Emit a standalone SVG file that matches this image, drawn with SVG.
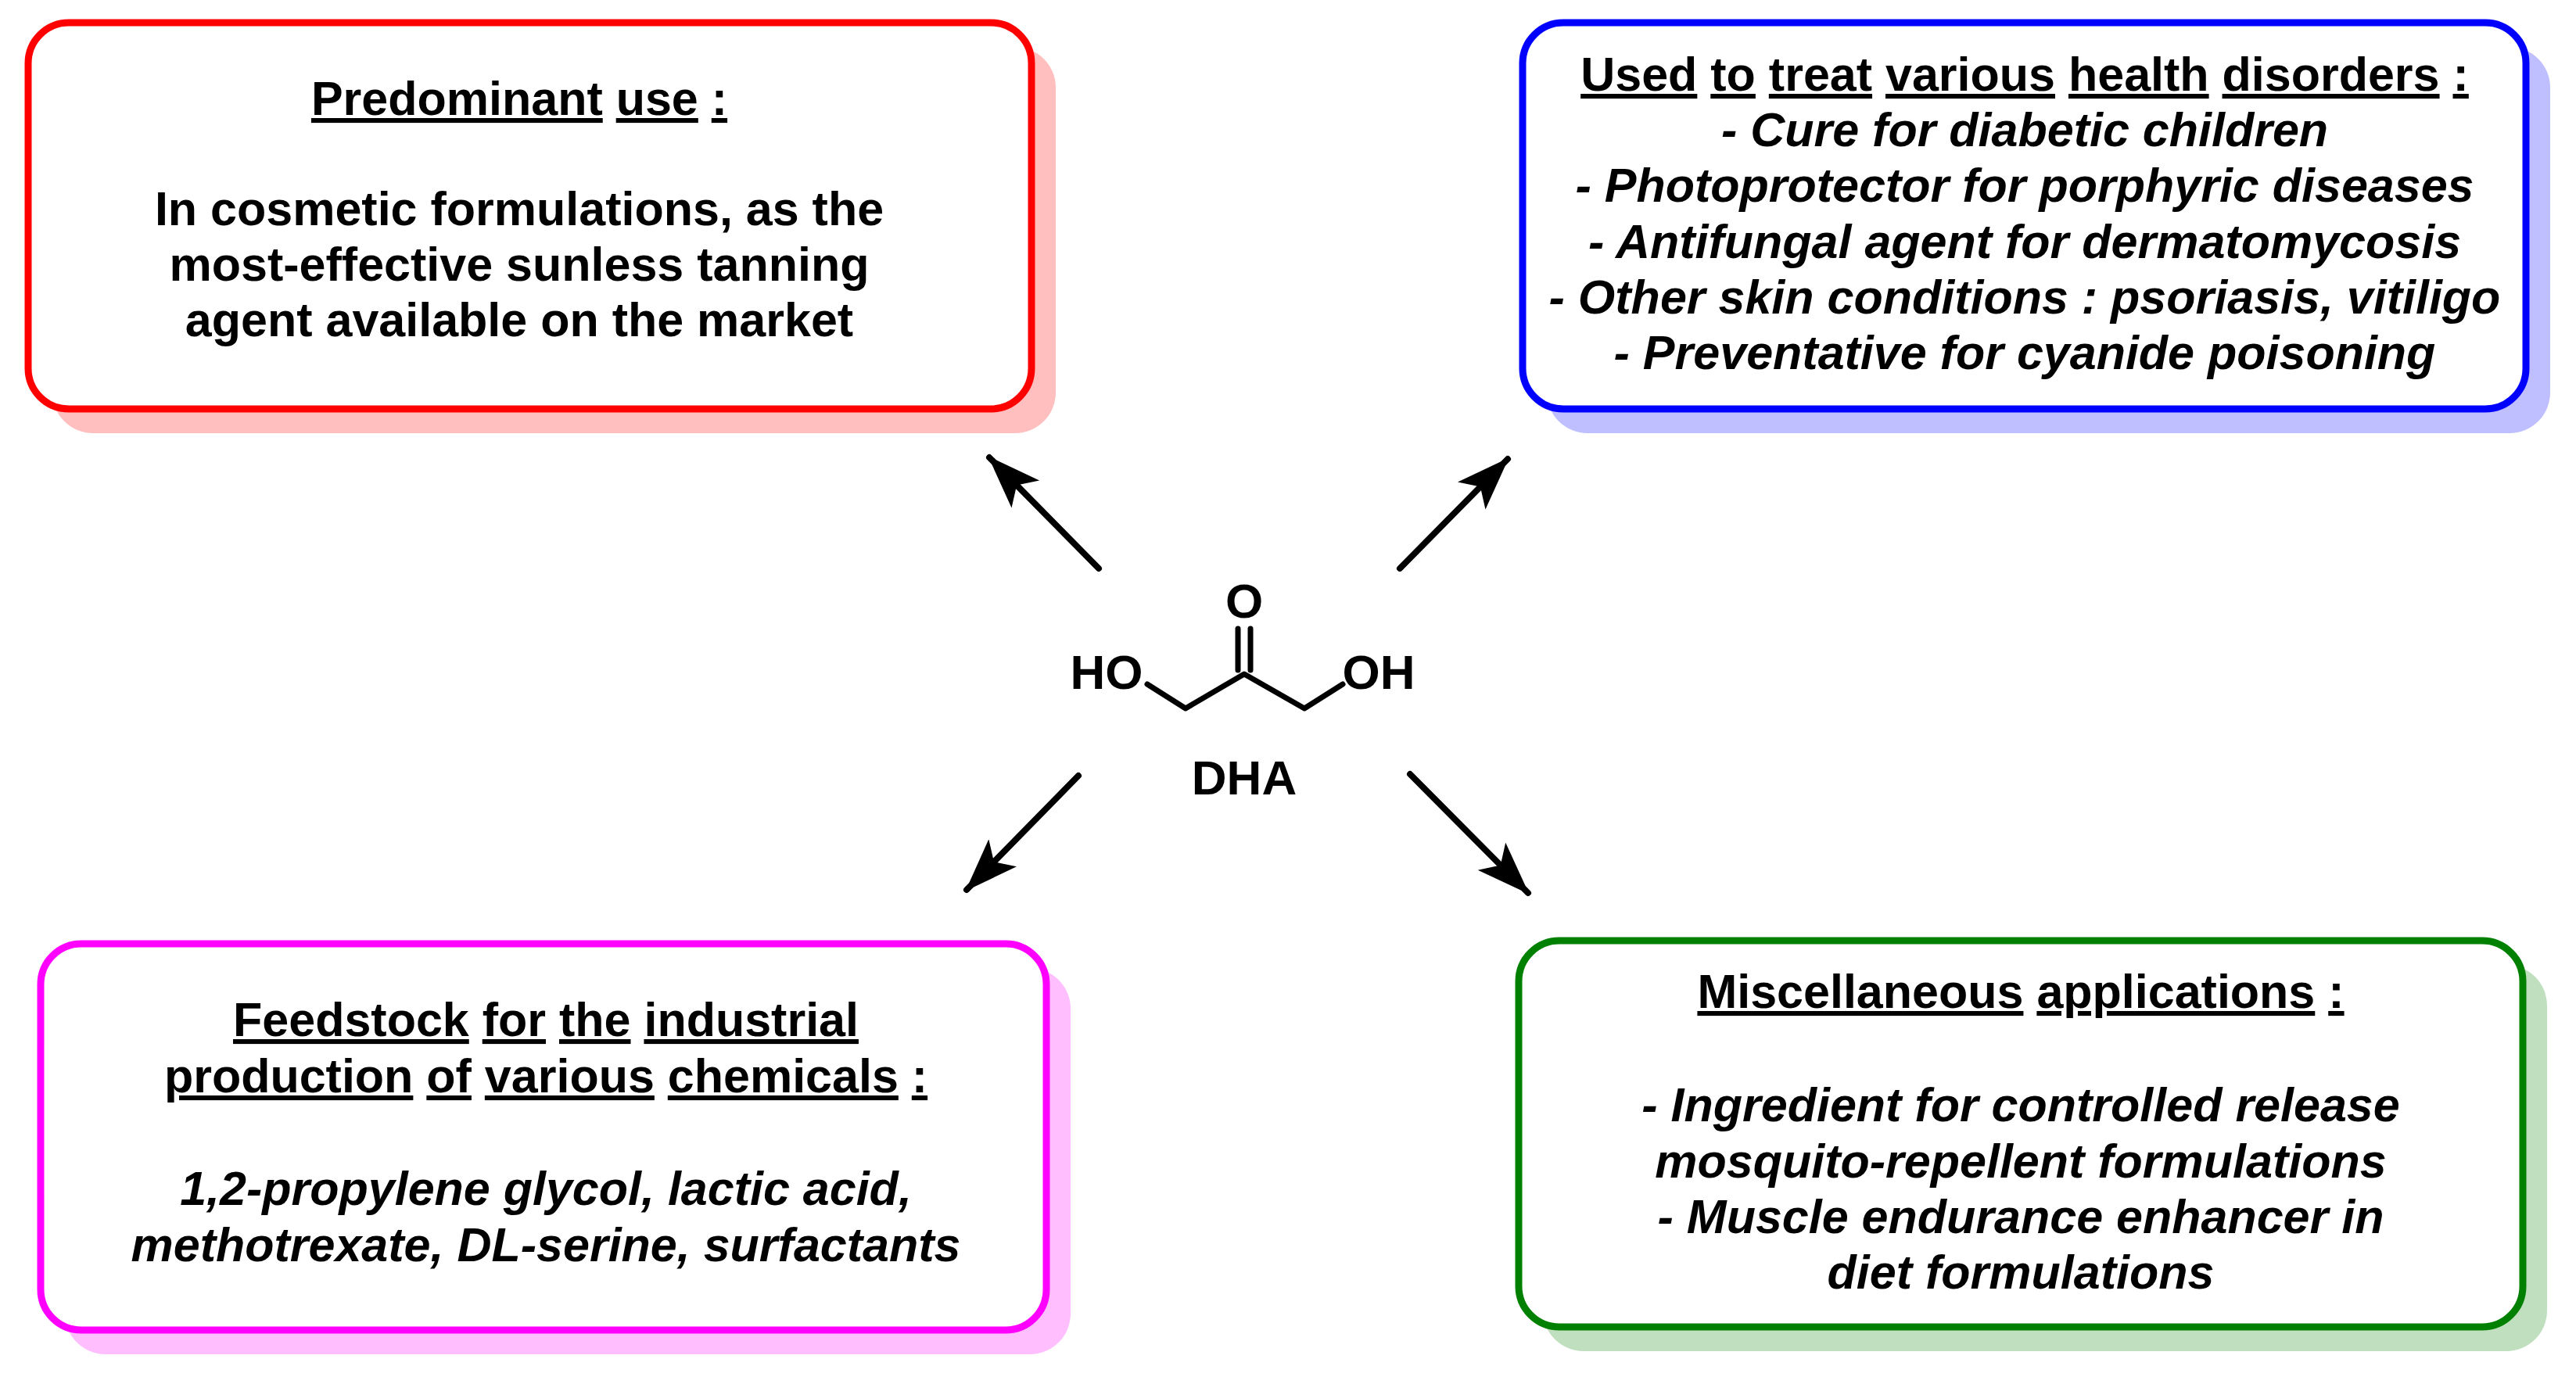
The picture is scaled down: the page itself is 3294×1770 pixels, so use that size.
<svg xmlns="http://www.w3.org/2000/svg" width="3294" height="1770" viewBox="0 0 3294 1770">
<style>
text{font-family:"Liberation Sans",Arial,sans-serif;font-weight:bold;font-size:61px;fill:#000;text-anchor:middle}
.i{font-style:italic}
.u{text-decoration:underline}
.box{fill:#fff;stroke-width:9}
.bond{stroke:#000;stroke-width:7;fill:none;stroke-linecap:round;stroke-linejoin:round}
.arr{stroke:#000;stroke-width:8;fill:none;stroke-linecap:round}
</style>
<defs>
<marker id="ah" markerUnits="userSpaceOnUse" markerWidth="80" markerHeight="60" refX="66" refY="25" orient="auto">
<path d="M0,0 L68,25 L0,50 L16,25 Z" fill="#000"/>
</marker>
</defs>
<rect width="3294" height="1770" fill="#fff"/>
<g id="use">
<rect x="67" y="60" width="1283" height="494" rx="52" fill="#ffbfbf"/>
<rect class="box" x="36" y="29" width="1283" height="494" rx="52" stroke="#ff0000"/>
<text x="664" y="147"><tspan class="u">Predominant</tspan> <tspan class="u">use</tspan> <tspan class="u">:</tspan></text>
<text x="664" y="288">In cosmetic formulations, as the</text>
<text x="664" y="359">most-effective sunless tanning</text>
<text x="664" y="430">agent available on the market</text>
</g>
<g id="health">
<rect x="1978" y="60" width="1283" height="494" rx="52" fill="#bfbfff"/>
<rect class="box" x="1947" y="29" width="1283" height="494" rx="52" stroke="#0000ff"/>
<text x="2589" y="116"><tspan class="u">Used</tspan> <tspan class="u">to</tspan> <tspan class="u">treat</tspan> <tspan class="u">various</tspan> <tspan class="u">health</tspan> <tspan class="u">disorders</tspan> <tspan class="u">:</tspan></text>
<text class="i" x="2589" y="187">- Cure for diabetic children</text>
<text class="i" x="2589" y="258">- Photoprotector for porphyric diseases</text>
<text class="i" x="2589" y="330">- Antifungal agent for dermatomycosis</text>
<text class="i" x="2589" y="401">- Other skin conditions : psoriasis, vitiligo</text>
<text class="i" x="2589" y="472">- Preventative for cyanide poisoning</text>
</g>
<g id="feedstock">
<rect x="83" y="1238" width="1286" height="494" rx="52" fill="#ffbfff"/>
<rect class="box" x="52" y="1207" width="1286" height="494" rx="52" stroke="#ff00ff"/>
<text x="698" y="1325"><tspan class="u">Feedstock</tspan> <tspan class="u">for</tspan> <tspan class="u">the</tspan> <tspan class="u">industrial</tspan></text>
<text x="698" y="1397"><tspan class="u">production</tspan> <tspan class="u">of</tspan> <tspan class="u">various</tspan> <tspan class="u">chemicals</tspan> <tspan class="u">:</tspan></text>
<text class="i" x="698" y="1541">1,2-propylene glycol, lactic acid,</text>
<text class="i" x="698" y="1613">methotrexate, DL-serine, surfactants</text>
</g>
<g id="misc">
<rect x="1973" y="1234" width="1284" height="494" rx="52" fill="#bfdfbf"/>
<rect class="box" x="1942" y="1203" width="1284" height="494" rx="52" stroke="#008000"/>
<text x="2584" y="1289"><tspan class="u">Miscellaneous</tspan> <tspan class="u">applications</tspan> <tspan class="u">:</tspan></text>
<text class="i" x="2584" y="1434">- Ingredient for controlled release</text>
<text class="i" x="2584" y="1506">mosquito-repellent formulations</text>
<text class="i" x="2584" y="1577">- Muscle endurance enhancer in</text>
<text class="i" x="2584" y="1648">diet formulations</text>
</g>
<g id="dha">
<text x="1415" y="881" style="font-size:62px">HO</text>
<text x="1763" y="881" style="font-size:62px">OH</text>
<text x="1591" y="790" style="font-size:62px">O</text>
<polyline class="bond" points="1467,875 1516,906 1591,862 1668,906 1717,875"/>
<line class="bond" x1="1583" y1="857" x2="1583" y2="804"/>
<line class="bond" x1="1599" y1="857" x2="1599" y2="804"/>
<text x="1591" y="1016" style="font-size:62px">DHA</text>
</g>
<g id="connectors">
<line class="arr" x1="1405" y1="727" x2="1265" y2="585" marker-end="url(#ah)"/>
<line class="arr" x1="1790" y1="727" x2="1928" y2="587" marker-end="url(#ah)"/>
<line class="arr" x1="1379" y1="992" x2="1236" y2="1138" marker-end="url(#ah)"/>
<line class="arr" x1="1803" y1="990" x2="1954" y2="1142" marker-end="url(#ah)"/>
</g>
</svg>
